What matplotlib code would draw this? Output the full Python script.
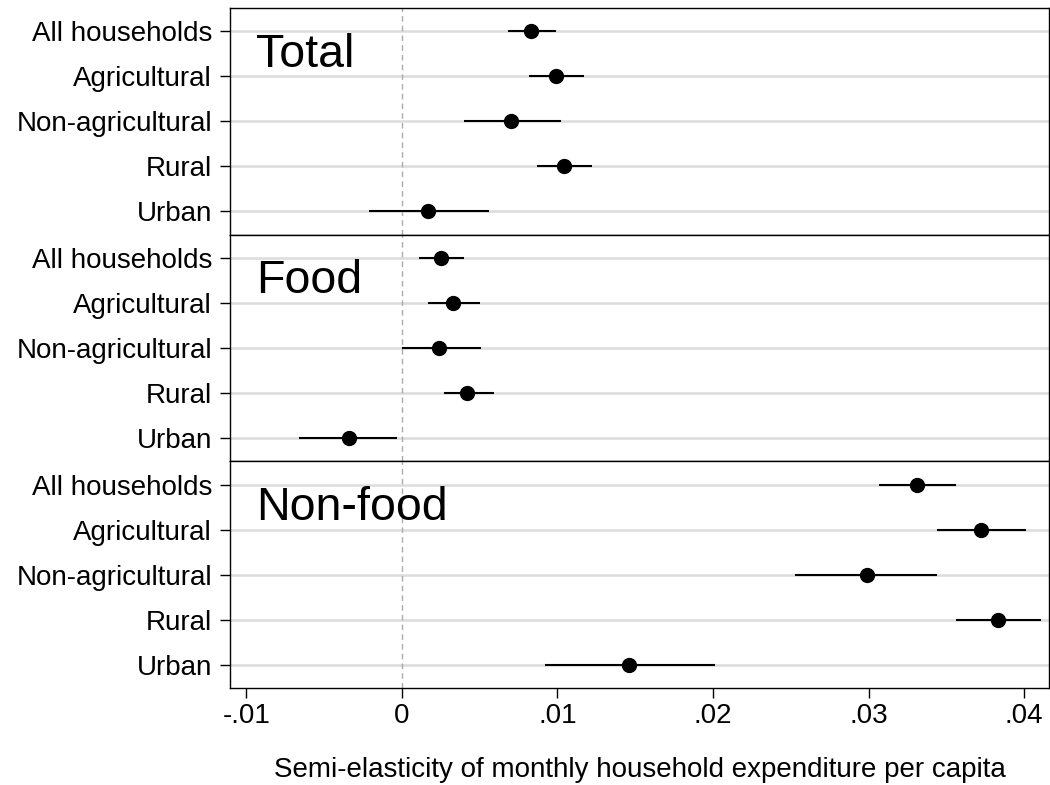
import matplotlib.pyplot as plt

plt.rcParams['font.family'] = ['Liberation Sans', 'DejaVu Sans']

groups = ['Total', 'Food', 'Non-food']
rows = ['All households', 'Agricultural', 'Non-agricultural', 'Rural', 'Urban']
est = [[0.0083, 0.0099, 0.0070, 0.0104, 0.0017],
       [0.0025, 0.0033, 0.0024, 0.0042, -0.0034],
       [0.0331, 0.0372, 0.0299, 0.0383, 0.0146]]
lo = [[0.0068, 0.0082, 0.0040, 0.0087, -0.0021],
      [0.0011, 0.0017, 0.0000, 0.0027, -0.0066],
      [0.0307, 0.0344, 0.0253, 0.0356, 0.0092]]
hi = [[0.0099, 0.0117, 0.0102, 0.0122, 0.0056],
      [0.0040, 0.0050, 0.0051, 0.0059, -0.0003],
      [0.0356, 0.0401, 0.0344, 0.0411, 0.0201]]
xticks = [-0.01, 0, 0.01, 0.02, 0.03, 0.04]
xlabels = ['-.01', '0', '.01', '.02', '.03', '.04']

fig, axes = plt.subplots(3, 1, figsize=(10.5, 7.85), dpi=100, sharex=True)
fig.subplots_adjust(left=0.219, right=0.999, top=0.99, bottom=0.1236, hspace=0)

for k, ax in enumerate(axes):
    y = list(range(len(rows)))
    for yi in y:
        ax.axhline(yi, color='#dcdcdc', lw=1.8, zorder=0)
    ax.axvline(0, color='#aaaaaa', lw=1, ls=(0, (4, 3)), zorder=1)
    ax.hlines(y, lo[k], hi[k], color='black', lw=1.5, zorder=2)
    ax.plot(est[k], y, 'o', color='black', ms=10, zorder=3)
    ax.set_yticks(y)
    ax.set_yticklabels(rows, fontsize=20)
    ax.set_ylim(4.52, -0.52)
    ax.set_xlim(-0.01106, 0.0416)
    ax.text(-0.0094, 0.52, groups[k], fontsize=33.5, va='center', ha='left')
    ax.tick_params(axis='y', length=7, width=1, pad=6)
    for s in ax.spines.values():
        s.set_linewidth(1)

axes[-1].set_xticks(xticks)
axes[-1].set_xticklabels(xlabels, fontsize=20)
axes[-1].tick_params(axis='x', length=7, width=1, pad=4)
axes[-1].set_xlabel('Semi-elasticity of monthly household expenditure per capita',
                    fontsize=20, labelpad=20)

fig.savefig('out.png')
